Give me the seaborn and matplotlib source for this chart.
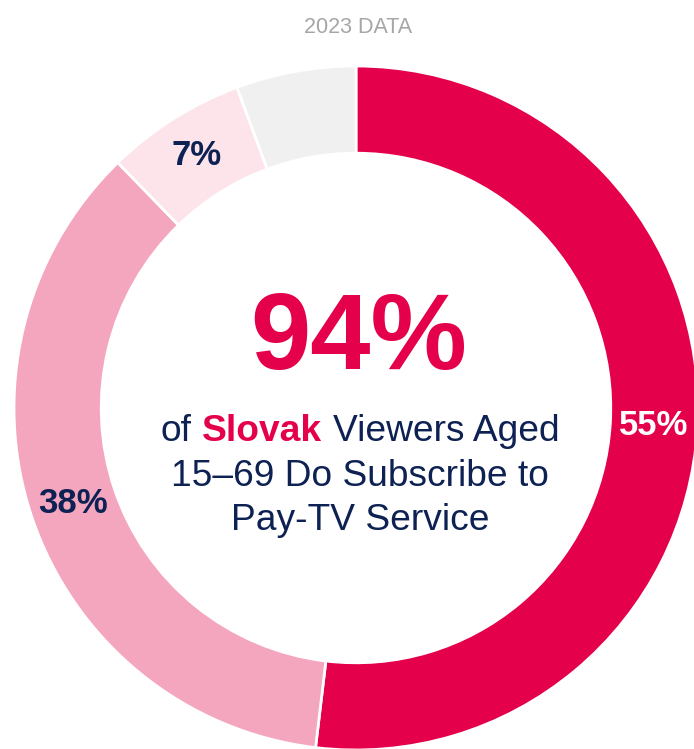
import matplotlib
matplotlib.use("Agg")
import matplotlib.pyplot as plt
import seaborn as sns
import numpy as np

# --- DATA ---
segments = ["Pay-TV (main)", "Pay-TV (other)", "Pay-TV (small)", "No Pay-TV"]
values = [55, 38, 7, 6]
value_labels = ["55%", "38%", "7%", ""]
seg_colors = ["#e4004b", "#f4a6bf", "#fce4ea", "#f0f0f0"]
label_colors = ["white", "#0d2153", "#0d2153", "#0d2153"]

headline = "94%"
subtitle_lines = [
    [("of ", "normal", "navy"), ("Slovak", "bold", "red"), (" Viewers Aged", "normal", "navy")],
    [("15\u201369 Do Subscribe to", "normal", "navy")],
    [("Pay-TV Service", "normal", "navy")],
]
top_note = "2023 DATA"

RED = "#e4004b"
NAVY = "#0d2153"
W, H = 694, 749


def fx(x):
    return x / W


def fy(y):
    return 1 - y / H


def main():
    sns.set_theme(style="white")
    plt.rcParams["font.family"] = ["Liberation Sans", "DejaVu Sans"]

    fig = plt.figure(figsize=(W / 100, H / 100), dpi=100)
    fig.patch.set_facecolor("white")

    # donut centre / radius in pixels
    cx, cy, R = 356, 408, 342
    ax = fig.add_axes([fx(cx - R), fy(cy + R), 2 * R / W, 2 * R / H])
    wedges, _ = ax.pie(
        values, colors=seg_colors, startangle=90, counterclock=False,
        radius=1, wedgeprops=dict(width=0.255, edgecolor="white", linewidth=2),
    )
    ax.set_xlim(-1, 1)
    ax.set_ylim(-1, 1)
    ax.axis("off")

    # value labels in the middle of the ring
    mid_r = 1 - 0.255 / 2
    for w, lab, col in zip(wedges, value_labels, label_colors):
        if not lab:
            continue
        ang = np.deg2rad((w.theta1 + w.theta2) / 2)
        ax.text(mid_r * np.cos(ang), mid_r * np.sin(ang), lab, ha="center", va="center",
                fontsize=25, fontweight="bold", color=col)

    fig.text(fx(358), fy(33), top_note, ha="center", va="baseline", fontsize=15.5, color="#a6a6a6")
    fig.text(fx(359), fy(369), headline, ha="center", va="baseline", fontsize=78,
             fontweight="bold", color=RED)

    renderer = fig.canvas.get_renderer()
    fs = 26.7

    def width(s, weight):
        t = fig.text(0, 0, s, fontsize=fs, fontweight=weight)
        wpx = t.get_window_extent(renderer).width
        t.remove()
        return wpx

    space = width("x x", "normal") - width("xx", "normal")
    baselines = [441, 486, 530]
    for line, base in zip(subtitle_lines, baselines):
        parts = []
        for txt, weight, col in line:
            lead = len(txt) - len(txt.lstrip(" "))
            trail = len(txt) - len(txt.rstrip(" "))
            core = txt.strip(" ")
            parts.append((core, weight, col, lead, trail, width(core, weight)))
        total = sum(p[5] + (p[3] + p[4]) * space for p in parts)
        x = 360 - total / 2
        for core, weight, col, lead, trail, wpx in parts:
            x += lead * space
            fig.text(fx(x), fy(base), core, ha="left", va="baseline", fontsize=fs,
                     fontweight=weight, color=RED if col == "red" else NAVY)
            x += wpx + trail * space

    fig.savefig("out.png", dpi=100, facecolor="white")


if __name__ == "__main__":
    main()
